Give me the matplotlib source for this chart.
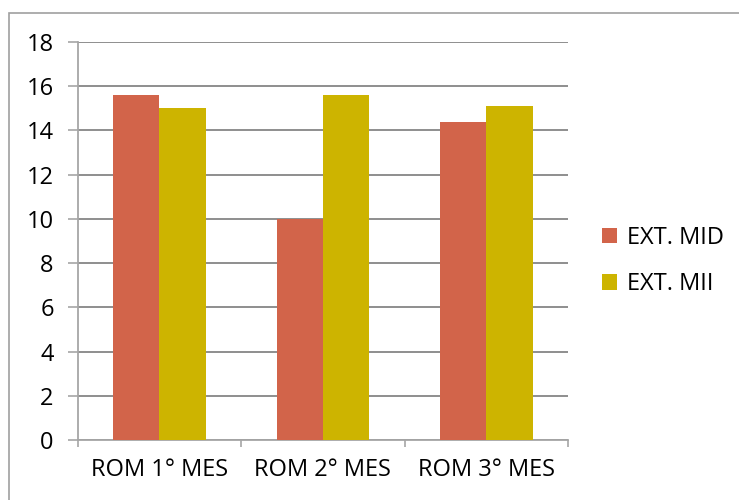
import matplotlib
matplotlib.use("Agg")
import matplotlib.pyplot as plt
from matplotlib.patches import Rectangle
import numpy as np

categories = ["ROM 1° MES", "ROM 2° MES", "ROM 3° MES"]
series_names = ["EXT. MID", "EXT. MII"]
ext_mid = [15.6, 10.0, 14.4]
ext_mii = [15.0, 15.6, 15.1]
yticks = [0, 2, 4, 6, 8, 10, 12, 14, 16, 18]

colors = ["#D2644A", "#CDB400"]

plt.rcParams['font.family'] = ['Open Sans', 'DejaVu Sans']
FS = 17

fig = plt.figure(figsize=(7.39, 5.0), dpi=100)
ax = fig.add_axes([77.6/739, 1-440/500, (568-77.6)/739, (440-42)/500])

x = np.arange(len(categories))
w = 0.283
ax.bar(x - w/2, ext_mid, width=w, color=colors[0], label=series_names[0], zorder=3)
ax.bar(x + w/2, ext_mii, width=w, color=colors[1], label=series_names[1], zorder=3)

ax.set_xlim(-0.5, len(categories) - 0.5)
ax.set_ylim(0, 18)
ax.set_yticks(yticks)
ax.set_yticklabels([str(v) for v in yticks], fontsize=FS)
ax.set_xticks(x)
ax.set_xticklabels(categories, fontsize=FS)
ax.set_xticks(np.arange(len(categories) + 1) - 0.5, minor=True)
ax.tick_params(axis='x', which='major', length=0, pad=13)
ax.tick_params(axis='x', which='minor', length=5, color='#a6a6a6', width=1.2)
ax.tick_params(axis='y', length=7.2, color='#a6a6a6', width=1.2, pad=10)

ax.grid(axis='y', color='#868686', linewidth=1.3, zorder=0)
ax.set_axisbelow(True)
for s in ['top', 'right']:
    ax.spines[s].set_visible(False)
ax.spines['left'].set_color('#a6a6a6')
ax.spines['left'].set_linewidth(1.3)
ax.spines['bottom'].set_color('#a6a6a6')
ax.spines['bottom'].set_linewidth(1.3)

leg = ax.legend(loc='center left', bbox_to_anchor=(1.025, 0.45), frameon=False,
                fontsize=FS, handlelength=0.65, handleheight=0.65,
                labelspacing=0.95, handletextpad=0.45)

fig.patches.append(Rectangle((8.5/739, -0.1), 1.2, 1 - 12.5/500 + 0.1,
                             transform=fig.transFigure, fill=False,
                             edgecolor='#a0a0a0', linewidth=1.2))

fig.savefig("out.png", dpi=100)
